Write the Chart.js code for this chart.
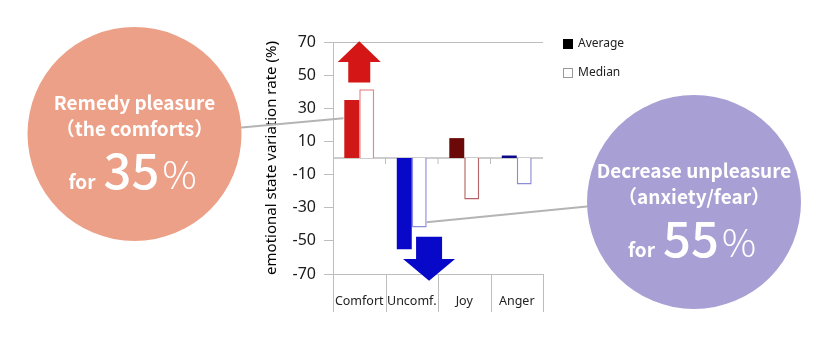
<!DOCTYPE html>
<html>
<head>
<meta charset="utf-8">
<script src="https://cdn.jsdelivr.net/npm/chart.js@4"></script>
<style>
  html, body { margin: 0; padding: 0; background: #fff; }
  #wrap { width: 830px; height: 343px; }
</style>
</head>
<body>
<div id="wrap"><canvas id="emotionChart" width="830" height="343"></canvas></div>
<script>
/* =========================
   DATA
========================= */

const categories = ["Comfort", "Uncomf.", "Joy", "Anger"];
const averageValues = [35, -55, 12, 1.5];
const medianValues = [41.5, -42, -25, -16];
const yTicks = [-70, -50, -30, -10, 10, 30, 50, 70];

const averageColors = ["#d01818", "#0808c8", "#6b0808", "#0a0a88"];
const medianBorders = ["#e88484", "#8c8ce0", "#b46464", "#8c8cd4"];

const AXIS_GRAY = "#bdbdbd";
const JP_FONT = "'Noto Sans CJK JP', 'Noto Sans', sans-serif";

/* =========================
   PLUGINS
========================= */

// zero line, category dividers, extended y axis
const axisFrame = {
  id: "axisFrame",
  beforeDatasetsDraw(chart) {
    const { ctx, chartArea, scales } = chart;
    const x = scales.x, y = scales.y;
    const y0 = y.getPixelForValue(0);
    const step = x.getPixelForValue(1) - x.getPixelForValue(0);
    ctx.save();
    ctx.strokeStyle = AXIS_GRAY;
    ctx.lineWidth = 1.5;
    ctx.beginPath();
    ctx.moveTo(chartArea.left, y0);
    ctx.lineTo(chartArea.right, y0);
    ctx.stroke();
    ctx.lineWidth = 1;
    ctx.beginPath();
    for (let i = 1; i < categories.length; i++) {
      const bx = x.getPixelForValue(i) - step / 2;
      ctx.moveTo(bx, y0);
      ctx.lineTo(bx, y0 + 6);
    }
    ctx.stroke();
    ctx.restore();
  },
  afterDraw(chart) {
    const { ctx, chartArea, scales } = chart;
    const x = scales.x;
    const step = x.getPixelForValue(1) - x.getPixelForValue(0);
    ctx.save();
    ctx.strokeStyle = AXIS_GRAY;
    ctx.lineWidth = 1;
    ctx.beginPath();
    for (let i = 0; i <= categories.length; i++) {
      const bx = Math.round(x.getPixelForValue(i) - step / 2) + 0.5;
      ctx.moveTo(bx, i === 0 ? chartArea.top : chartArea.bottom);
      ctx.lineTo(bx, x.bottom);
    }
    ctx.stroke();
    ctx.restore();
  }
};

function drawArrow(ctx, cx, yBase, yHead, yTip, shaftHalf, headHalf, color) {
  ctx.beginPath();
  ctx.moveTo(cx - shaftHalf, yBase);
  ctx.lineTo(cx - shaftHalf, yHead);
  ctx.lineTo(cx - headHalf, yHead);
  ctx.lineTo(cx, yTip);
  ctx.lineTo(cx + headHalf, yHead);
  ctx.lineTo(cx + shaftHalf, yHead);
  ctx.lineTo(cx + shaftHalf, yBase);
  ctx.closePath();
  ctx.fillStyle = color;
  ctx.fill();
}

function drawBubble(ctx, cx, cy, r, color, line1, line2, pct, dx) {
  ctx.beginPath();
  ctx.arc(cx, cy, r, 0, Math.PI * 2);
  ctx.fillStyle = color;
  ctx.fill();

  ctx.fillStyle = "#fff";
  ctx.textAlign = "center";
  ctx.textBaseline = "middle";
  ctx.font = "bold 19px " + JP_FONT;
  ctx.fillText(line1, cx, cy - 31, 2 * r - 8);
  ctx.fillText(line2, cx, cy - 5);

  // "for 35%" row
  const base = cy + 55;
  const numFont = "500 49px " + JP_FONT;
  const pctFont = "300 38px " + JP_FONT;
  ctx.textBaseline = "alphabetic";
  ctx.textAlign = "left";
  ctx.font = "bold 19px " + JP_FONT;
  const wFor = ctx.measureText("for").width;
  ctx.font = numFont;
  const wNum = ctx.measureText(pct).width;
  ctx.font = pctFont;
  const wPct = ctx.measureText("%").width;
  let px = cx + dx - (wFor + 8 + wNum + 3 + wPct) / 2;
  ctx.font = "bold 19px " + JP_FONT;
  ctx.fillText("for", px, base);
  px += wFor + 8;
  ctx.font = numFont;
  ctx.fillText(pct, px, base);
  px += wNum + 3;
  ctx.font = pctFont;
  ctx.fillText("%", px, base);
}

const annotations = {
  id: "annotations",
  afterDraw(chart) {
    const { ctx, scales } = chart;
    const x = scales.x, y = scales.y;
    const step = x.getPixelForValue(1) - x.getPixelForValue(0);
    ctx.save();

    // arrows
    drawArrow(ctx, x.getPixelForValue(0), y.getPixelForValue(45.5),
      y.getPixelForValue(58), y.getPixelForValue(70.5), 11, 21.5, "#d41616");
    drawArrow(ctx, x.getPixelForValue(1) + step * 0.33, y.getPixelForValue(-47.5),
      y.getPixelForValue(-61), y.getPixelForValue(-74), 13, 26, "#0808c8");

    // connectors
    ctx.strokeStyle = "#b4b4b4";
    ctx.lineWidth = 2;
    ctx.beginPath();
    ctx.moveTo(236, 128);
    ctx.lineTo(x.getPixelForValue(0) - step * 0.3, y.getPixelForValue(24));
    ctx.moveTo(x.getPixelForValue(1) + step * 0.28, y.getPixelForValue(-38.8));
    ctx.lineTo(592, 206);
    ctx.stroke();

    // bubbles
    drawBubble(ctx, 134.5, 134, 107, "#eca088",
      "Remedy pleasure", "（the comforts）", "35", -2);
    drawBubble(ctx, 694, 202, 107, "#a89fd4",
      "Decrease unpleasure", "（anxiety/fear）", "55", -2);

    // legend
    ctx.font = "12px 'Noto Sans', sans-serif";
    ctx.textAlign = "left";
    ctx.textBaseline = "middle";
    chart.data.datasets.forEach((ds, i) => {
      const ly = 44 + i * 29;
      if (i === 0) {
        ctx.fillStyle = "#000";
        ctx.fillRect(563, ly - 5, 10, 10);
      } else {
        ctx.strokeStyle = "#9a9a9a";
        ctx.lineWidth = 1;
        ctx.strokeRect(563.5, ly - 4.5, 9, 9);
      }
      ctx.fillStyle = "#222";
      ctx.fillText(ds.label, 578, ly);
    });

    ctx.restore();
  }
};

/* =========================
   CHART
========================= */

new Chart(document.getElementById("emotionChart"), {
  type: "bar",
  data: {
    labels: categories,
    datasets: [
      {
        label: "Average",
        data: averageValues,
        backgroundColor: averageColors,
        borderWidth: 0
      },
      {
        label: "Median",
        data: medianValues,
        backgroundColor: "#ffffff",
        borderColor: medianBorders,
        borderWidth: 1.5
      }
    ]
  },
  options: {
    responsive: false,
    animation: false,
    layout: { padding: { left: 263, right: 287, top: 42, bottom: 31 } },
    categoryPercentage: 0.57,
    barPercentage: 1,
    plugins: {
      legend: { display: false },
      tooltip: { enabled: false }
    },
    scales: {
      x: {
        grid: { display: false },
        border: { display: false },
        ticks: {
          color: "#222",
          padding: 12,
          autoSkip: false,
          maxRotation: 0,
          minRotation: 0,
          font: { family: "'Noto Sans', sans-serif", size: 12.5 }
        },
        afterFit(scale) { scale.height = 38; }
      },
      y: {
        min: -70,
        max: 70,
        afterBuildTicks(scale) {
          scale.ticks = yTicks.map(v => ({ value: v }));
        },
        grid: {
          color: ctx => (Math.abs(ctx.tick?.value) === 70 ? AXIS_GRAY : "transparent"),
          tickColor: AXIS_GRAY,
          tickLength: 9,
          lineWidth: 1
        },
        border: { display: true, color: AXIS_GRAY },
        ticks: {
          color: "#1a1a1a",
          padding: 8,
          font: { family: "'Noto Sans', sans-serif", size: 16 }
        },
        title: {
          display: true,
          text: "emotional state variation rate (%)",
          color: "#000",
          padding: 0,
          font: { family: "'Noto Sans', sans-serif", size: 15 }
        },
        afterFit(scale) { scale.width = 70; }
      }
    }
  },
  plugins: [axisFrame, annotations]
});
</script>
</body>
</html>
